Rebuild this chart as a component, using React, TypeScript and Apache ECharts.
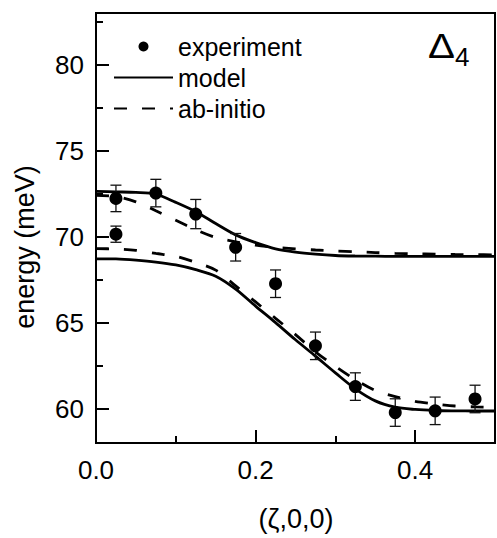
import React, { useEffect, useRef } from 'react';
import * as echarts from 'echarts';

const FONT = '"Liberation Sans", Arial, Helvetica, sans-serif';

// Axis ticks
const xMajorTicks = [0, 0.2, 0.4];
const xMinorTicks = [0.1, 0.3];
const yMajorTicks = [60, 65, 70, 75, 80];
const yMinorTicks = [62.5, 67.5, 72.5, 77.5, 82.5];

// Curves
const curveX = [0, 0.025, 0.05, 0.075, 0.1, 0.125, 0.15, 0.175, 0.2, 0.225, 0.25, 0.275, 0.3, 0.325, 0.35, 0.375, 0.4, 0.425, 0.45, 0.475, 0.5];
const modelUpper = [72.63, 72.6, 72.57, 72.47, 71.99, 71.45, 70.76, 70.1, 69.65, 69.29, 69.1, 68.98, 68.9, 68.87, 68.86, 68.85, 68.85, 68.85, 68.85, 68.85, 68.85];
const modelLower = [68.71, 68.7, 68.63, 68.52, 68.35, 68.08, 67.7, 66.95, 65.96, 65.0, 64.0, 63.05, 62.08, 61.15, 60.45, 60.08, 59.95, 59.89, 59.87, 59.86, 59.86];
const abUpper = [72.4, 72.33, 72.02, 71.5, 70.95, 70.4, 69.95, 69.7, 69.5, 69.38, 69.29, 69.22, 69.16, 69.12, 69.07, 69.03, 69.0, 68.98, 68.96, 68.95, 68.94];
const abLower = [69.3, 69.28, 69.2, 69.02, 68.85, 68.5, 68.05, 67.13, 66.2, 65.25, 64.3, 63.3, 62.45, 61.68, 61.05, 60.7, 60.42, 60.27, 60.15, 60.1, 60.08];

// Experiment
const expX = [0.025, 0.075, 0.125, 0.175, 0.025, 0.225, 0.275, 0.325, 0.375, 0.425, 0.475];
const expY = [72.22, 72.53, 71.31, 69.38, 70.14, 67.26, 63.65, 61.28, 59.77, 59.87, 60.56];
const expErr = [0.77, 0.8, 0.85, 0.8, 0.47, 0.8, 0.8, 0.8, 0.8, 0.8, 0.8];

const legendNames = ['experiment', 'model', 'ab-initio'];
const xTitle = '(\u03B6,0,0)';
const yTitle = 'energy (meV)';
const panelLabel = '\u0394';
const panelSub = '4';

const pairs = (xs: number[], ys: number[]) => xs.map((x, i) => [x, ys[i]]);

export default function App() {
  const ref = useRef<HTMLDivElement>(null);
  useEffect(() => {
    const chart = echarts.init(ref.current!, null, { renderer: 'svg' });
    const axisLineStyle = { color: '#000', width: 2 };
    const solidStyle = { color: '#000', width: 2.8, type: 'solid' as const };
    const dashStyle = { color: '#000', width: 2.8, type: [13, 15] as any };
    const option: any = {
      animation: false,
      backgroundColor: '#fff',
      textStyle: { fontFamily: FONT },
      grid: {
        left: 96, right: 2, top: 13, bottom: 95,
        show: true, borderColor: '#000', borderWidth: 2, backgroundColor: 'transparent',
        containLabel: false,
      },
      legend: {
        data: [
          { name: legendNames[0] },
          { name: legendNames[1], itemStyle: { opacity: 0 } },
          { name: legendNames[2], itemStyle: { opacity: 0 } },
        ],
        orient: 'vertical',
        left: 108,
        top: 29,
        itemWidth: 59,
        itemHeight: 10,
        itemGap: 6,
        selectedMode: false,
        textStyle: { fontSize: 25, color: '#000', fontFamily: FONT },
      },
      xAxis: [
        {
          type: 'value', min: 0, max: 0.5, position: 'bottom',
          axisLine: { show: true, onZero: false, lineStyle: axisLineStyle },
          axisTick: { show: true, inside: true, length: 13, lineStyle: axisLineStyle, customValues: xMajorTicks },
          axisLabel: {
            show: true, customValues: xMajorTicks, fontSize: 26, color: '#000', margin: 14, fontFamily: FONT,
            formatter: (v: number) => v.toFixed(1),
          },
          splitLine: { show: false },
        },
        {
          type: 'value', min: 0, max: 0.5, position: 'bottom',
          axisLine: { show: false, onZero: false },
          axisTick: { show: true, inside: true, length: 7, lineStyle: axisLineStyle, customValues: xMinorTicks },
          axisLabel: { show: false },
          splitLine: { show: false },
        },
      ],
      yAxis: [
        {
          type: 'value', min: 58, max: 83, position: 'left',
          axisLine: { show: true, onZero: false, lineStyle: axisLineStyle },
          axisTick: { show: true, inside: true, length: 13, lineStyle: axisLineStyle, customValues: yMajorTicks },
          axisLabel: {
            show: true, customValues: yMajorTicks, fontSize: 26, color: '#000', margin: 12, fontFamily: FONT,
          },
          splitLine: { show: false },
        },
        {
          type: 'value', min: 58, max: 83, position: 'left',
          axisLine: { show: false, onZero: false },
          axisTick: { show: true, inside: true, length: 7, lineStyle: axisLineStyle, customValues: yMinorTicks },
          axisLabel: { show: false },
          splitLine: { show: false },
        },
      ],
      graphic: [
        {
          type: 'text', x: 25, y: 247, rotation: Math.PI / 2,
          style: { text: yTitle, fontSize: 27, fontFamily: FONT, fill: '#000', textAlign: 'center', textVerticalAlign: 'middle' },
        },
        {
          type: 'text', x: 296, y: 519,
          style: { text: xTitle, fontSize: 27, fontFamily: FONT, fill: '#000', textAlign: 'center', textVerticalAlign: 'middle' },
        },
        {
          type: 'text', x: 428, y: 45, scaleX: 1.12,
          style: { text: panelLabel, fontSize: 36, fontFamily: FONT, fill: '#000', textAlign: 'left', textVerticalAlign: 'middle' },
        },
        {
          type: 'text', x: 455, y: 57,
          style: { text: panelSub, fontSize: 26, fontFamily: FONT, fill: '#000', textAlign: 'left', textVerticalAlign: 'middle' },
        },
      ],
      series: [
        {
          name: 'model', type: 'line', data: pairs(curveX, modelUpper), symbol: 'none', showSymbol: false,
          smooth: 0.3, lineStyle: solidStyle, itemStyle: { color: '#000' }, z: 2,
        },
        {
          name: 'model', type: 'line', data: pairs(curveX, modelLower), symbol: 'none', showSymbol: false,
          smooth: 0.3, lineStyle: solidStyle, itemStyle: { color: '#000' }, z: 2,
        },
        {
          name: 'ab-initio', type: 'line', data: pairs(curveX, abUpper), symbol: 'none', showSymbol: false,
          smooth: 0.3, lineStyle: dashStyle, itemStyle: { color: '#000' }, z: 2,
        },
        {
          name: 'ab-initio', type: 'line', data: pairs(curveX, abLower), symbol: 'none', showSymbol: false,
          smooth: 0.3, lineStyle: dashStyle, itemStyle: { color: '#000' }, z: 2,
        },
        {
          name: 'errors', type: 'custom', z: 3,
          data: expX.map((x, i) => [x, expY[i], expErr[i]]),
          encode: { x: 0, y: 1 },
          renderItem: (params: any, api: any) => {
            const x = api.value(0);
            const y = api.value(1);
            const e = api.value(2);
            const top = api.coord([x, y + e]);
            const bot = api.coord([x, y - e]);
            const hw = 5.5;
            const st = { stroke: '#111', lineWidth: 1.3 };
            return {
              type: 'group',
              children: [
                { type: 'line', shape: { x1: top[0], y1: top[1], x2: bot[0], y2: bot[1] }, style: st },
                { type: 'line', shape: { x1: top[0] - hw, y1: top[1], x2: top[0] + hw, y2: top[1] }, style: st },
                { type: 'line', shape: { x1: bot[0] - hw, y1: bot[1], x2: bot[0] + hw, y2: bot[1] }, style: st },
              ],
            };
          },
        },
        {
          name: 'experiment', type: 'scatter', data: pairs(expX, expY), symbol: 'circle', symbolSize: 13,
          itemStyle: { color: '#000', opacity: 1 }, z: 4,
        },
      ],
    };
    chart.setOption(option);
    return () => chart.dispose();
  }, []);
  return <div ref={ref} style={{ position: 'fixed', left: 0, top: 0, width: 497, height: 538 }} />;
}
